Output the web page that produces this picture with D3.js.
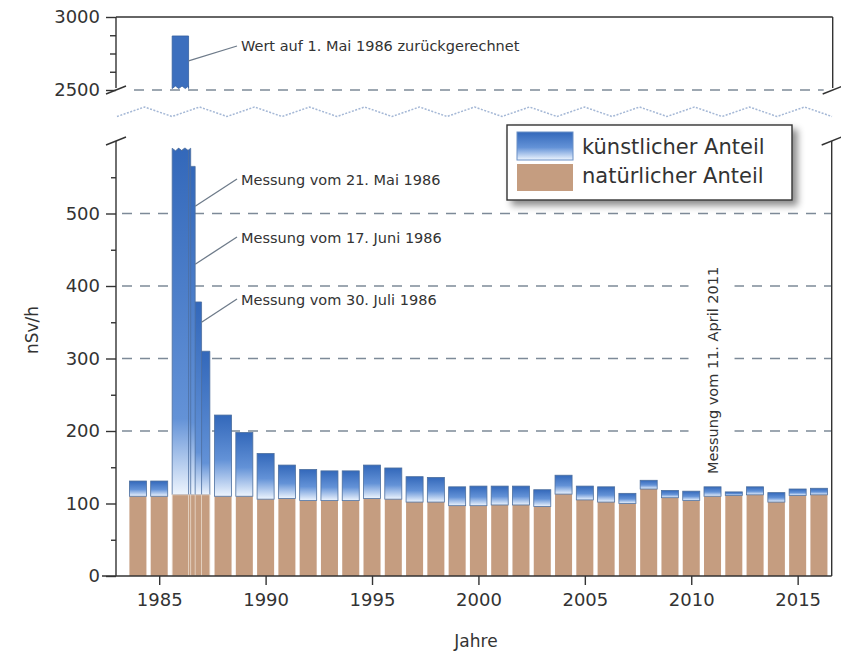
<!DOCTYPE html>
<html>
<head>
<meta charset="utf-8">
<script src="https://cdn.jsdelivr.net/npm/d3@7"></script>
<style>
  body { margin: 0; background: #fff; }
  svg text { font-family: "DejaVu Sans", Verdana, sans-serif; fill: #333; }
</style>
</head>
<body>
<div id="chart"></div>
<script>
// yearly values (nSv/h), 1986/87 are drawn from the single measurements below
var years   = [1984, 1985, 1988, 1989, 1990, 1991, 1992, 1993, 1994, 1995, 1996, 1997, 1998, 1999, 2000,
               2001, 2002, 2003, 2004, 2005, 2006, 2007, 2008, 2009, 2010, 2011, 2012, 2013, 2014, 2015, 2016];
var natural = [110, 110, 110, 110, 106, 107, 104, 104, 104, 107, 106, 102, 102, 97, 97,
               98, 98, 96, 113, 105, 102, 100, 120, 108, 104, 110, 111, 112, 102, 111, 112];
var total   = [131, 131, 222, 198, 169, 153, 147, 145, 145, 153, 149, 137, 136, 123, 124,
               124, 124, 119, 139, 124, 123, 114, 132, 118, 117, 123, 116, 123, 115, 120, 121];

// single measurements after Chernobyl (start / end as decimal years)
var measStart   = [1985.61, 1985.89, 1986.23, 1986.23, 1986.63];
var measEnd     = [1986.38, 1986.48, 1986.69, 1986.99, 1987.38];
var measTotal   = [2870, 760, 565, 378, 310];
var measNatural = [112, 112, 112, 112, 112];

var xTicks = [1985, 1990, 1995, 2000, 2005, 2010, 2015];
var yTicksLow = [0, 100, 200, 300, 400, 500];
var yTicksHigh = [2500, 3000];
var gridLow = [200, 300, 400, 500];

var notes = [
  {text: 'Wert auf 1. Mai 1986 zurückgerechnet', year: 1986.38, value: 2700, panel: 'high'},
  {text: 'Messung vom 21. Mai 1986', year: 1986.69, value: 510, panel: 'low'},
  {text: 'Messung vom 17. Juni 1986', year: 1986.69, value: 430, panel: 'low'},
  {text: 'Messung vom 30. Juli 1986', year: 1986.99, value: 350, panel: 'low'}
];

var width = 841, height = 655;
var svg = d3.select('#chart').append('svg')
    .attr('width', width)
    .attr('height', height);

var x = d3.scaleLinear().domain([1982.97, 2016.6]).range([116, 831.7]);
var yLow = d3.scaleLinear().domain([0, 500]).range([576, 213.5]);
var yHigh = d3.scaleLinear().domain([2500, 3000]).range([90, 17]);
var halfBar = 0.4;
var clipValue = 590;

var defs = svg.append('defs');
function addGradient(id, mid) {
  var g = defs.append('linearGradient').attr('id', id)
      .attr('x1', 0).attr('y1', 0).attr('x2', 0).attr('y2', 1);
  g.append('stop').attr('offset', '0%').attr('stop-color', '#3368ba');
  g.append('stop').attr('offset', mid).attr('stop-color', '#6392d7');
  g.append('stop').attr('offset', '100%').attr('stop-color', '#eef5fe');
}
addGradient('blue', '55%');
addGradient('blueTall', '78%');

var shadow = defs.append('filter').attr('id', 'shadow')
    .attr('x', '-10%').attr('y', '-20%').attr('width', '130%').attr('height', '160%');
shadow.append('feDropShadow').attr('dx', 5).attr('dy', 5).attr('stdDeviation', 3.5)
    .attr('flood-color', '#000').attr('flood-opacity', 0.45);

// grid lines
var grid = svg.append('g')
    .attr('stroke', '#7d8a98').attr('stroke-width', 1.3).attr('stroke-dasharray', '10,8');
grid.selectAll('line.low').data(gridLow).enter().append('line')
    .attr('x1', x.range()[0] + 6).attr('x2', x.range()[1])
    .attr('y1', function(d) { return yLow(d); }).attr('y2', function(d) { return yLow(d); });
grid.append('line')
    .attr('x1', x.range()[0] + 18).attr('x2', x.range()[1] - 8)
    .attr('y1', yHigh(2500)).attr('y2', yHigh(2500));

// wavy dotted break line
var wave = [];
for (var wx = 117, k = 0; wx <= 836; wx += 27.5, k++) {
  wave.push([wx, k % 2 === 0 ? 116.5 : 107]);
}
svg.append('path')
    .attr('d', d3.line()(wave))
    .attr('fill', 'none').attr('stroke', '#a5b8d6')
    .attr('stroke-width', 1.5).attr('stroke-dasharray', '2,1.5');

// white gap behind the vertical note
svg.append('rect')
    .attr('x', x(2011) - 24).attr('y', 255).attr('width', 46).attr('height', 225)
    .attr('fill', '#fff');
svg.append('text')
    .attr('transform', 'translate(' + (x(2011) + 5) + ',474) rotate(-90)')
    .attr('font-size', 14.5)
    .text('Messung vom 11. April 2011');

function jagged(x0, x1, yEdge, dir) {
  // zigzag edge between x0 and x1, dir = +1 points down
  var pts = [], n = Math.max(2, Math.round((x1 - x0) / 3));
  for (var i = 0; i <= n; i++) {
    pts.push([x0 + (x1 - x0) * i / n, yEdge + (i % 2 ? 2.5 * dir : 0)]);
  }
  return pts;
}

function barPath(x0, x1, yTop, yBot, jagTop, jagBot) {
  var pts = [[x0, yBot], [x0, yTop]];
  if (jagTop) pts = pts.concat(jagged(x0, x1, yTop, 1)); else pts.push([x1, yTop]);
  pts.push([x1, yBot]);
  if (jagBot) pts = pts.concat(jagged(x0, x1, yBot, -1).reverse());
  return d3.line()(pts) + 'Z';
}

var bars = svg.append('g');

// single measurements, smaller values behind
var meas = measTotal.map(function(v, i) {
  return {start: measStart[i], end: measEnd[i], total: v, nat: measNatural[i]};
}).sort(function(a, b) { return a.total - b.total; });

meas.forEach(function(d) {
  var top = Math.min(d.total, clipValue);
  bars.append('path')
      .attr('d', barPath(x(d.start), x(d.end), yLow(top), yLow(d.nat), d.total > clipValue, false))
      .attr('fill', 'url(#blueTall)').attr('stroke', '#4d6f9e').attr('stroke-width', 0.8);
  bars.append('rect')
      .attr('x', x(d.start)).attr('width', x(d.end) - x(d.start))
      .attr('y', yLow(d.nat)).attr('height', yLow(0) - yLow(d.nat))
      .attr('fill', '#c59d80').attr('stroke', '#eadbcd').attr('stroke-width', 0.8);
});

// upper panel bar
meas.filter(function(d) { return d.total > 2500; }).forEach(function(d) {
  bars.append('path')
      .attr('d', barPath(x(d.start), x(d.end), yHigh(d.total), yHigh(2510), false, true))
      .attr('fill', '#3c6fbe').attr('stroke', '#34609f').attr('stroke-width', 0.8);
});

// yearly bars
var data = years.map(function(yr, i) {
  return {year: yr, nat: natural[i], total: total[i]};
});
bars.selectAll('rect.nat').data(data).enter().append('rect')
    .attr('class', 'nat')
    .attr('x', function(d) { return x(d.year - halfBar); })
    .attr('width', x(1985 + halfBar) - x(1985 - halfBar))
    .attr('y', function(d) { return yLow(d.nat); })
    .attr('height', function(d) { return yLow(0) - yLow(d.nat); })
    .attr('fill', '#c59d80');
bars.selectAll('rect.art').data(data).enter().append('rect')
    .attr('class', 'art')
    .attr('x', function(d) { return x(d.year - halfBar); })
    .attr('width', x(1985 + halfBar) - x(1985 - halfBar))
    .attr('y', function(d) { return yLow(d.total); })
    .attr('height', function(d) { return yLow(d.nat) - yLow(d.total); })
    .attr('fill', 'url(#blue)').attr('stroke', '#4d6f9e').attr('stroke-width', 0.8);

// axes
var axisColor = '#333';
var frame = svg.append('g').attr('stroke', axisColor).attr('stroke-width', 1.4).attr('fill', 'none');
frame.append('line').attr('x1', x.range()[0]).attr('x2', x.range()[1] + 1)
    .attr('y1', yHigh(3000)).attr('y2', yHigh(3000));
frame.append('line').attr('x1', x.range()[0]).attr('x2', x.range()[0])
    .attr('y1', yHigh(3000)).attr('y2', yHigh(2500) - 2);
frame.append('line').attr('x1', x.range()[1] + 1).attr('x2', x.range()[1] + 1)
    .attr('y1', yHigh(3000)).attr('y2', yHigh(2500) - 2);
frame.append('line').attr('x1', x.range()[0]).attr('x2', x.range()[0])
    .attr('y1', yLow(600)).attr('y2', yLow(0));
frame.append('line').attr('x1', x.range()[1]).attr('x2', x.range()[1])
    .attr('y1', yLow(600)).attr('y2', yLow(0));
// break marks
[[x.range()[0], yHigh(2500)], [x.range()[0], yLow(600)],
 [x.range()[1] + 1, yHigh(2500)], [x.range()[1], yLow(600)]].forEach(function(p) {
  frame.append('line')
      .attr('x1', p[0] - 10).attr('y1', p[1] + 4)
      .attr('x2', p[0] + 10).attr('y2', p[1] - 4);
});

function styleAxis(g) {
  g.select('.domain').remove();
  g.selectAll('.tick line').attr('stroke', axisColor).attr('stroke-width', 1.4);
  g.selectAll('.tick text').attr('fill', '#333').attr('font-family', '"DejaVu Sans", Verdana, sans-serif');
}

svg.append('g')
    .attr('transform', 'translate(' + x.range()[0] + ',0)')
    .call(d3.axisLeft(yLow).tickValues(yTicksLow).tickSize(10).tickPadding(6).tickFormat(d3.format('d')))
    .call(styleAxis)
    .attr('font-size', 18);
svg.append('g')
    .attr('transform', 'translate(' + x.range()[0] + ',0)')
    .call(d3.axisLeft(yLow).tickValues([50, 150, 250, 350, 450, 550]).tickSize(5).tickFormat(''))
    .call(styleAxis);
svg.append('g')
    .attr('transform', 'translate(' + x.range()[0] + ',0)')
    .call(d3.axisLeft(yHigh).tickValues(yTicksHigh).tickSize(10).tickPadding(6).tickFormat(d3.format('d')))
    .call(styleAxis)
    .attr('font-size', 18);
svg.append('g')
    .attr('transform', 'translate(' + x.range()[0] + ',0)')
    .call(d3.axisLeft(yHigh).tickValues([2625, 2750, 2875]).tickSize(6).tickFormat(''))
    .call(styleAxis);

svg.append('line')
    .attr('x1', x.range()[0] - 14).attr('x2', x.range()[1])
    .attr('y1', yLow(0)).attr('y2', yLow(0))
    .attr('stroke', axisColor).attr('stroke-width', 1.4);
svg.append('g')
    .attr('transform', 'translate(0,' + yLow(0) + ')')
    .call(d3.axisBottom(x).tickValues(xTicks).tickSize(9).tickPadding(8).tickFormat(d3.format('d')))
    .call(styleAxis)
    .attr('font-size', 18);

svg.append('text')
    .attr('x', 476).attr('y', 647)
    .attr('text-anchor', 'middle').attr('font-size', 17)
    .text('Jahre');
svg.append('text')
    .attr('transform', 'translate(38,330) rotate(-90)')
    .attr('text-anchor', 'middle').attr('font-size', 17)
    .text('nSv/h');

// annotations
var baselines = [51, 185, 243, 305];
notes.forEach(function(n, i) {
  var yy = n.panel === 'high' ? yHigh(n.value) : yLow(n.value);
  svg.append('line')
      .attr('x1', 237).attr('y1', baselines[i] - 6 - (i === 0 ? -1 : 0))
      .attr('x2', x(n.year)).attr('y2', yy)
      .attr('stroke', '#6e7b8a').attr('stroke-width', 1.3);
  svg.append('text')
      .attr('x', 241).attr('y', baselines[i])
      .attr('font-size', 14.5)
      .text(n.text);
});

// legend
var legend = svg.append('g').attr('transform', 'translate(507,125)');
legend.append('rect')
    .attr('width', 285).attr('height', 75)
    .attr('fill', '#fff').attr('stroke', '#333').attr('stroke-width', 1.4)
    .attr('filter', 'url(#shadow)');
legend.append('rect')
    .attr('x', 10).attr('y', 7).attr('width', 56).attr('height', 28)
    .attr('fill', 'url(#blue)').attr('stroke', '#6b90c6');
legend.append('rect')
    .attr('x', 10).attr('y', 39).attr('width', 56).attr('height', 27)
    .attr('fill', '#c59d80');
legend.append('text').attr('x', 75).attr('y', 28.5).attr('font-size', 21).text('künstlicher Anteil');
legend.append('text').attr('x', 75).attr('y', 58).attr('font-size', 21).text('natürlicher Anteil');
</script>
</body>
</html>
